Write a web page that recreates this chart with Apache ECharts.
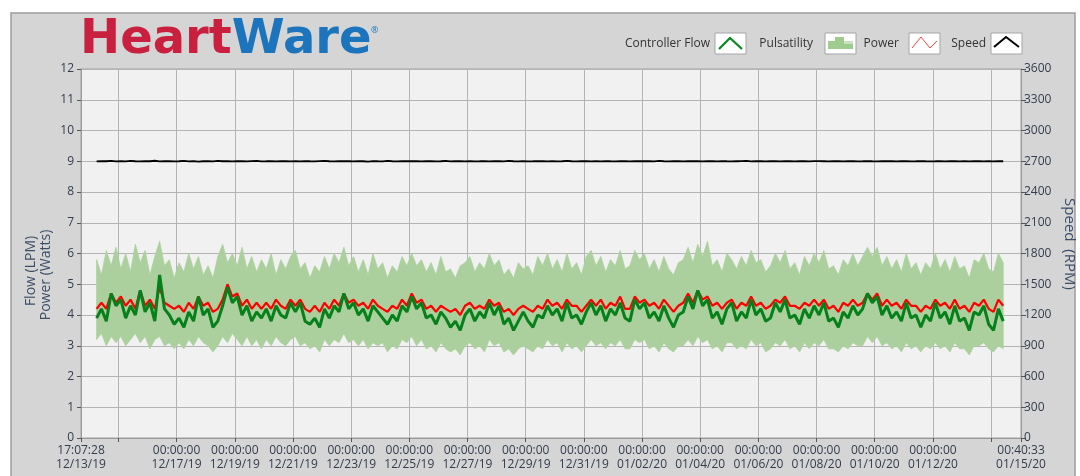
<!DOCTYPE html>
<html><head><meta charset="utf-8">
<script src="https://cdn.jsdelivr.net/npm/echarts@6/dist/echarts.min.js"></script>
<style>html,body{margin:0;padding:0;background:#fff}#c{width:1080px;height:476px}</style>
</head><body><div id="c"></div>
<script>
// x values are days since 12/13/19 00:00:00
const AXIS_START = (17*3600 + 7*60 + 28) / 86400;      // 17:07:28 12/13/19
const AXIS_END = 33 + (40*60 + 33) / 86400;            // 00:40:33 01/15/20
const DATA_START = 1.25;                               // 12/14/19 06:00
const STEP = 4 / 24;                                   // 4-hour samples
const TICK_DAYS = [2,4,6,8,10,12,14,16,18,20,22,24,26,28,30,32];   // 12/15 .. 01/14 midnights
const LABEL_DAYS = [4,6,8,10,12,14,16,18,20,22,24,26,28,30];      // 12/17 .. 01/12
const LEFT_TICKS = [0,1,2,3,4,5,6,7,8,9,10,11,12];
const RIGHT_TICKS = [0,300,600,900,1200,1500,1800,2100,2400,2700,3000,3300,3600];

// Controller Flow (LPM)
const FLOW = [
3.9,4.2,3.8,4.7,4.3,
4.5,3.9,4.3,4.0,4.8,4.1,4.4,3.8,5.3,4.2,4.0,3.7,
3.9,3.6,4.1,3.8,4.6,4.0,4.2,3.6,3.8,4.3,4.9,4.4,
4.6,4.0,4.3,3.8,4.1,3.9,4.2,3.8,4.3,4.0,3.9,4.4,
4.1,4.4,3.8,3.7,3.9,3.6,4.2,3.9,4.3,4.1,4.7,4.2,
4.4,4.0,4.2,3.8,4.3,4.1,3.9,3.7,4.0,3.8,4.3,4.1,
4.6,4.2,4.4,3.9,4.0,3.7,4.1,3.9,3.6,3.8,3.5,4.0,
4.2,3.8,4.1,3.9,4.4,4.0,4.3,3.7,3.9,3.5,3.8,4.1,
3.8,3.6,4.0,3.9,4.3,4.0,4.2,3.8,4.4,3.9,4.0,3.7,
4.1,4.4,4.0,4.3,3.8,4.2,4.0,4.4,3.9,3.8,4.5,4.2,
4.4,3.9,4.1,3.8,4.3,3.9,3.6,4.0,4.1,4.6,4.2,4.8,
4.3,4.5,3.9,4.1,3.7,4.2,4.4,3.8,4.1,3.9,4.5,4.0,
4.2,3.8,3.9,4.4,4.1,4.5,3.9,4.0,3.7,4.2,3.9,4.3,
4.0,4.4,3.8,3.9,3.6,4.1,3.9,4.3,4.0,4.2,4.7,4.4,
4.6,4.0,4.3,3.9,4.1,3.8,4.4,3.9,4.0,3.6,4.0,3.8,
4.4,3.9,4.1,3.7,4.3,3.8,3.9,3.5,4.1,4.0,4.3,3.7,
3.5,4.2,3.8
];
// Power (Watts)
const POWER = [
4.2,4.4,4.2,4.7,4.4,
4.6,4.3,4.5,4.2,4.8,4.3,4.5,4.2,4.9,4.4,4.3,4.2,
4.3,4.1,4.4,4.2,4.6,4.3,4.4,4.1,4.2,4.5,5.0,4.6,
4.7,4.3,4.5,4.2,4.4,4.2,4.4,4.2,4.5,4.3,4.2,4.5,
4.3,4.5,4.2,4.1,4.3,4.1,4.4,4.2,4.5,4.3,4.7,4.4,
4.5,4.3,4.4,4.2,4.5,4.3,4.2,4.1,4.3,4.2,4.5,4.3,
4.7,4.4,4.5,4.2,4.3,4.1,4.3,4.2,4.1,4.2,4.0,4.3,
4.4,4.2,4.3,4.2,4.5,4.3,4.4,4.1,4.2,4.0,4.2,4.3,
4.2,4.1,4.3,4.2,4.5,4.3,4.4,4.2,4.5,4.3,4.3,4.1,
4.3,4.5,4.3,4.5,4.2,4.4,4.3,4.6,4.2,4.2,4.6,4.4,
4.5,4.3,4.4,4.2,4.5,4.3,4.1,4.3,4.4,4.7,4.4,4.8,
4.5,4.6,4.3,4.4,4.2,4.4,4.5,4.2,4.4,4.3,4.6,4.3,
4.4,4.2,4.3,4.5,4.4,4.6,4.3,4.3,4.2,4.4,4.3,4.5,
4.3,4.5,4.2,4.3,4.1,4.4,4.3,4.5,4.3,4.4,4.7,4.5,
4.7,4.3,4.5,4.3,4.4,4.2,4.5,4.3,4.3,4.1,4.3,4.2,
4.5,4.3,4.4,4.2,4.5,4.2,4.3,4.1,4.4,4.3,4.5,4.2,
4.1,4.5,4.3
];
// Pulsatility band: upper edge
const PULS_HIGH = [
5.8,5.3,6.1,5.6,6.2,
5.5,6.0,5.4,6.3,5.7,6.1,5.3,5.9,6.4,5.6,5.8,5.2,
5.7,5.4,6.0,5.5,5.9,5.3,5.6,5.2,5.9,6.3,5.7,6.0,
5.6,6.2,5.5,5.9,5.4,5.8,5.5,6.0,5.3,5.8,5.5,5.9,
6.1,5.5,5.7,5.2,5.6,5.4,5.9,5.5,6.0,5.7,6.2,5.6,
5.9,5.4,5.8,5.3,6.0,5.5,5.7,5.2,5.6,5.4,5.9,5.6,
6.0,5.6,5.8,5.4,5.7,5.3,5.9,5.4,5.5,5.2,5.6,5.7,
5.9,5.4,5.7,5.5,6.0,5.6,5.8,5.3,5.5,5.2,5.7,5.5,
5.6,5.3,5.9,5.6,6.0,5.5,5.8,5.4,6.0,5.5,5.7,5.3,
5.9,6.1,5.6,5.9,5.4,5.8,5.6,6.1,5.5,5.6,6.1,5.8,
6.0,5.5,5.8,5.4,5.9,5.5,5.3,5.7,5.8,6.2,5.7,6.3,
5.9,6.4,5.6,5.8,5.4,6.0,5.8,5.5,5.9,5.6,6.1,5.7,
5.8,5.4,5.6,6.0,5.7,6.1,5.5,5.7,5.3,5.9,5.6,6.0,
5.7,6.1,5.5,5.6,5.3,5.8,5.6,6.0,5.6,5.9,6.2,5.9,
6.2,5.6,5.9,5.5,5.8,5.4,6.0,5.5,5.7,5.3,5.7,5.5,
6.0,5.5,5.8,5.4,5.9,5.5,5.6,5.2,5.8,5.7,6.0,5.5,
5.4,6.0,5.7
];
// Pulsatility band: lower edge
const PULS_LOW = [
3.2,3.4,3.0,3.3,3.1,
3.3,3.0,3.2,3.4,3.1,3.3,2.9,3.2,3.3,3.0,3.1,2.9,
3.1,2.9,3.2,3.0,3.3,3.1,3.0,2.8,3.0,3.3,3.1,3.4,
3.2,3.0,3.3,3.0,3.2,2.9,3.2,3.0,3.3,3.1,3.0,3.2,
3.3,3.0,3.1,2.9,3.0,2.8,3.2,3.0,3.2,3.1,3.4,3.1,
3.2,3.0,3.2,2.9,3.1,3.0,3.1,2.8,3.0,2.9,3.2,3.1,
3.3,3.0,3.2,2.9,3.0,2.8,3.1,2.9,2.8,2.9,2.7,3.0,
3.1,2.9,3.0,2.8,3.2,3.0,3.1,2.8,2.9,2.7,2.9,3.0,
2.9,2.8,3.0,2.9,3.2,3.0,3.1,2.8,3.1,2.9,3.0,2.8,
3.0,3.2,3.0,3.1,2.9,3.1,3.0,3.2,2.9,2.9,3.2,3.1,
3.2,2.9,3.0,2.8,3.1,2.9,2.8,3.0,3.0,3.2,3.0,3.3,
3.1,3.2,2.9,3.0,2.8,3.1,3.1,2.9,3.0,2.9,3.2,3.0,
3.1,2.8,2.9,3.1,3.0,3.2,2.9,3.0,2.8,3.1,2.9,3.1,
3.0,3.2,2.9,2.9,2.8,3.0,2.9,3.1,3.0,3.0,3.3,3.1,
3.3,3.0,3.1,2.9,3.0,2.8,3.1,2.9,3.0,2.8,3.0,2.9,
3.1,2.9,3.0,2.8,3.1,2.9,2.9,2.7,3.0,3.0,3.1,2.9,
2.8,3.0,2.9
];
// Speed (RPM)
const SPEED = [
2698,2702,2700,2704,2699,
2701,2699,2703,2700,2698,2702,2700,2705,2699,2701,2700,2698,
2700,2703,2699,2701,2697,2700,2702,2699,2704,2700,2701,2699,
2702,2700,2698,2701,2703,2699,2700,2702,2698,2700,2701,2699,
2700,2698,2702,2700,2699,2701,2703,2700,2698,2701,2700,2702,
2699,2701,2700,2697,2702,2700,2699,2703,2700,2698,2701,2700,
2700,2702,2699,2701,2700,2698,2700,2703,2699,2700,2701,2699,
2701,2699,2700,2702,2698,2700,2701,2699,2704,2700,2698,2701,
2699,2700,2702,2700,2698,2701,2699,2700,2703,2700,2699,2701,
2700,2698,2701,2699,2702,2700,2699,2701,2700,2698,2702,2700,
2701,2700,2699,2703,2700,2698,2701,2700,2699,2702,2700,2701,
2699,2701,2700,2698,2702,2700,2699,2700,2701,2703,2699,2700,
2700,2699,2702,2700,2698,2701,2700,2699,2702,2700,2698,2701,
2701,2700,2698,2700,2702,2699,2701,2700,2699,2700,2702,2700,
2699,2701,2700,2702,2698,2700,2701,2699,2700,2702,2700,2699,
2700,2702,2699,2700,2701,2698,2700,2699,2701,2700,2699,2700,
2698,2701,2700
];

const FONT = '"Open Sans", "DejaVu Sans", sans-serif';
const TXT = '#333d4d';
const pad = n => (n < 10 ? '0' : '') + n;
function fmtTime(v) {
  const ms = Date.UTC(2019, 11, 13) + Math.round(v * 86400) * 1000;
  const d = new Date(ms);
  return pad(d.getUTCHours()) + ':' + pad(d.getUTCMinutes()) + ':' + pad(d.getUTCSeconds()) + '\n' +
    pad(d.getUTCMonth() + 1) + '/' + pad(d.getUTCDate()) + '/' + pad(d.getUTCFullYear() % 100);
}
const tAt = i => DATA_START + i * STEP;
const xy = arr => arr.map((v, i) => [tAt(i), v]);

const chart = echarts.init(document.getElementById('c'), null, {renderer: 'canvas'});

// legend graphics
const legendItems = [
  {name: 'Controller Flow', textRight: 710, box: 715},
  {name: 'Pulsatility', textRight: 813, box: 825},
  {name: 'Power', textRight: 899, box: 909},
  {name: 'Speed', textRight: 986, box: 991}
];
const graphics = [
  {type: 'rect', z: -100, shape: {x: 11, y: 13, width: 1064, height: 470},
   style: {fill: '#d5d5d5', stroke: '#9d9d9d', lineWidth: 1.5}},
  {type: 'text', x: 80, y: 41, z: 10,
   style: {text: '{h|Heart}{w|Ware}', align: 'left', verticalAlign: 'middle',
     rich: {
       h: {fontFamily: '"DejaVu Sans", sans-serif', fontWeight: 'bold', fontSize: 48, fill: '#c8203e'},
       w: {fontFamily: '"DejaVu Sans", sans-serif', fontWeight: 'bold', fontSize: 48, fill: '#1c75bc'}
     }}},
  {type: 'text', x: 371, y: 30, z: 10,
   style: {text: '®', fontSize: 9, fill: '#1c75bc', fontFamily: FONT, align: 'left', verticalAlign: 'middle'}},
  {type: 'text', x: 31, y: 271, rotation: Math.PI / 2,
   style: {text: 'Flow (LPM)', fontFamily: FONT, fontSize: 14, fill: '#3d4e68', align: 'center', verticalAlign: 'middle'}},
  {type: 'text', x: 46, y: 275, rotation: Math.PI / 2,
   style: {text: 'Power (Watts)', fontFamily: FONT, fontSize: 14, fill: '#3d4e68', align: 'center', verticalAlign: 'middle'}},
  {type: 'text', x: 1069, y: 244, rotation: -Math.PI / 2,
   style: {text: 'Speed  (RPM)', fontFamily: FONT, fontSize: 15, fill: '#3d4e68', align: 'center', verticalAlign: 'middle'}}
];
legendItems.forEach(it => {
  graphics.push({type: 'text', x: it.textRight, y: 44,
    style: {text: it.name, fontFamily: FONT, fontSize: 12, fill: '#333', align: 'right', verticalAlign: 'middle'}});
  graphics.push({type: 'rect', shape: {x: it.box, y: 33, width: 31, height: 21},
    style: {fill: '#ffffff', stroke: '#a5a5a5', lineWidth: 1}});
});
const bx = legendItems.map(it => it.box);
graphics.push({type: 'polyline', shape: {points: [[bx[0] + 4, 49], [bx[0] + 15, 38], [bx[0] + 27, 49]]},
  style: {stroke: '#07871d', lineWidth: 2.2, fill: null}});
graphics.push({type: 'rect', shape: {x: bx[1] + 3, y: 41, width: 25, height: 8}, style: {fill: '#9fcb8f'}});
graphics.push({type: 'rect', shape: {x: bx[1] + 10, y: 37, width: 9, height: 4}, style: {fill: '#9fcb8f'}});
graphics.push({type: 'rect', shape: {x: bx[1] + 19, y: 41, width: 9, height: 3}, style: {fill: '#c9e2bf'}});
graphics.push({type: 'polyline', shape: {points: [[bx[2] + 3, 48], [bx[2] + 12, 37], [bx[2] + 21, 48], [bx[2] + 28, 41]]},
  style: {stroke: '#ff4040', lineWidth: 1, fill: null}});
graphics.push({type: 'polyline', shape: {points: [[bx[3] + 3, 47], [bx[3] + 15, 37], [bx[3] + 28, 47]]},
  style: {stroke: '#000', lineWidth: 2, fill: null}});

// Pulsatility band drawn as one polygon through the axis scales
function renderBand(params, api) {
  if (params.dataIndex !== 0) return null;
  const top = [], bottom = [];
  for (let i = 0; i < PULS_HIGH.length; i++) {
    top.push(api.coord([tAt(i), PULS_HIGH[i]]));
    bottom.unshift(api.coord([tAt(i), PULS_LOW[i]]));
  }
  return {type: 'polygon', shape: {points: top.concat(bottom)},
          style: {fill: '#abd09d', stroke: '#abd09d', lineWidth: 0.8}};
}

const option = {
  backgroundColor: '#ffffff',
  animation: false,
  textStyle: {fontFamily: FONT},
  graphic: {elements: graphics},
  grid: {left: 81, right: 59, top: 69, bottom: 38, show: true, backgroundColor: '#f1f1f1', borderColor: '#a0a0a0', borderWidth: 1, containLabel: false},
  xAxis: {
    type: 'value', min: AXIS_START, max: AXIS_END,
    axisLine: {show: true, lineStyle: {color: '#9a9a9a'}},
    axisTick: {show: true, length: 4, lineStyle: {color: '#555'},
      customValues: [AXIS_START].concat(TICK_DAYS, [AXIS_END])},
    axisLabel: {customValues: [AXIS_START].concat(LABEL_DAYS, [AXIS_END]), formatter: fmtTime,
      fontSize: 12, lineHeight: 14, color: TXT, margin: 6, fontFamily: FONT},
    splitLine: {show: true, lineStyle: {color: '#b4b4b4', width: 1}}
  },
  yAxis: [
    {type: 'value', min: 0, max: 12, interval: 1, position: 'left',
     axisLine: {show: true, lineStyle: {color: '#9a9a9a'}},
     axisTick: {show: true, length: 4, lineStyle: {color: '#555'}},
     axisLabel: {fontSize: 12, color: TXT, margin: 7, fontFamily: FONT,
       formatter: v => LEFT_TICKS.indexOf(v) >= 0 ? String(v) : ''},
     splitLine: {show: true, lineStyle: {color: '#b4b4b4', width: 1}}},
    {type: 'value', min: 0, max: 3600, interval: 300, position: 'right',
     axisLine: {show: true, lineStyle: {color: '#9a9a9a'}},
     axisTick: {show: true, length: 5, lineStyle: {color: '#555'}},
     axisLabel: {fontSize: 12, color: TXT, margin: 3, fontFamily: FONT,
       formatter: v => RIGHT_TICKS.indexOf(v) >= 0 ? String(v) : ''},
     splitLine: {show: false}}
  ],
  series: [
    {name: 'Pulsatility', type: 'custom', renderItem: renderBand, data: xy(PULS_HIGH),
     encode: {x: 0, y: 1}, silent: true, z: 2},
    {name: 'Power', type: 'line', data: xy(POWER), symbol: 'none',
     lineStyle: {width: 2.2, color: '#ff0000'}, z: 3},
    {name: 'Controller Flow', type: 'line', data: xy(FLOW), symbol: 'none',
     lineStyle: {width: 3, color: '#05801b'}, z: 4},
    {name: 'Speed', type: 'line', yAxisIndex: 1, data: xy(SPEED), symbol: 'none',
     lineStyle: {width: 1.8, color: '#000000'}, z: 4}
  ]
};
chart.setOption(option);
</script></body></html>
